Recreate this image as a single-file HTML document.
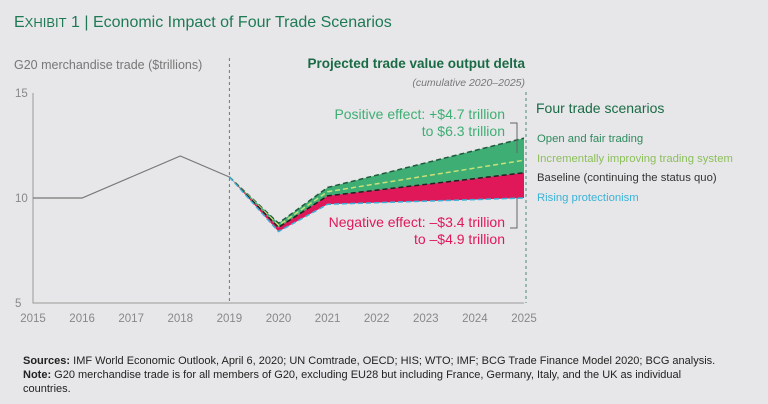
<!DOCTYPE html>
<html><head><meta charset="utf-8"><style>
body{margin:0;background:#e7e7e9;width:768px;height:404px;overflow:hidden;font-family:"Liberation Sans",sans-serif}
svg{display:block}
</style></head><body>
<svg width="768" height="404" viewBox="0 0 768 404">
<rect width="768" height="404" fill="#e7e7e9"/>
<text x="14" y="27" font-size="16" fill="#1e7a55">E<tspan font-size="13">XHIBIT</tspan> 1 | Economic Impact of Four Trade Scenarios</text>
<text x="14" y="69" font-size="12.5" fill="#777">G20 merchandise trade ($trillions)</text>
<text x="525" y="68" font-size="13.5" font-weight="bold" fill="#1a6b45" text-anchor="end">Projected trade value output delta</text>
<text x="525" y="86" font-size="10.5" font-style="italic" fill="#777" text-anchor="end">(cumulative 2020–2025)</text>
<g id="axes"></g>
<g id="marks"></g>
<text x="505" y="119" font-size="14" fill="#3fae74" text-anchor="end">Positive effect: +$4.7 trillion</text>
<text x="505" y="136" font-size="14" fill="#3fae74" text-anchor="end">to $6.3 trillion</text>
<text x="505" y="227" font-size="14" fill="#e0185a" text-anchor="end">Negative effect: –$3.4 trillion</text>
<text x="505" y="244" font-size="14" fill="#e0185a" text-anchor="end">to –$4.9 trillion</text>
<path d="M510,123 H517 V153 M510,228 H517 V198" stroke="#666" fill="none" stroke-width="1"/>
<text x="536" y="113" font-size="14" fill="#1a6b45">Four trade scenarios</text>
<text x="537" y="142" font-size="11.3" fill="#2e8a5e">Open and fair trading</text>
<text x="537" y="162" font-size="11.3" fill="#8cbf5a">Incrementally improving trading system</text>
<text x="537" y="181" font-size="11.3" fill="#333">Baseline (continuing the status quo)</text>
<text x="537" y="201" font-size="11.3" fill="#3bb3d8">Rising protectionism</text>
<text x="23" y="364" font-size="11" fill="#222"><tspan font-weight="bold">Sources:</tspan> IMF World Economic Outlook, April 6, 2020; UN Comtrade, OECD; HIS; WTO; IMF; BCG Trade Finance Model 2020; BCG analysis.</text>
<text x="23" y="378" font-size="11" fill="#222"><tspan font-weight="bold">Note:</tspan> G20 merchandise trade is for all members of G20, excluding EU28 but including France, Germany, Italy, and the UK as individual</text>
<text x="23" y="392" font-size="11" fill="#222">countries.</text>
</svg>
<script>
const years=[2015,2016,2017,2018,2019,2020,2021,2022,2023,2024,2025];
const history=[10,10,11,12,11];
const projYears=[2019,2020,2021,2025];
const openFair=[11,8.8,10.5,12.85];
const improving=[11,8.7,10.3,11.8];
const baseline=[11,8.6,10.1,11.2];
const protection=[11,8.4,9.7,10.0];
const yTicks=[5,10,15];
const NS='http://www.w3.org/2000/svg';
const x=v=>33+(v-2015)*49.1;
const y=v=>198-(v-10)*21;
const axes=document.getElementById('axes'),marks=document.getElementById('marks');
function mk(tag,a,p){const e=document.createElementNS(NS,tag);for(const k in a)e.setAttribute(k,a[k]);(p||marks).appendChild(e);return e;}
let e=mk('path',{d:`M33,93 V303 H${x(2025)}`,stroke:'#999',fill:'none','stroke-width':1},axes);


years.forEach(yr=>{const t=mk('text',{x:x(yr),y:322,'font-size':11.5,fill:'#888','text-anchor':'middle'},axes);t.textContent=yr;

});
yTicks.forEach(v=>{const t=mk('text',{x:15,y:y(v)+4,'font-size':11.5,fill:'#888'},axes);t.textContent=v;

});
e=mk('line',{x1:x(2019),x2:x(2019),y1:58,y2:303,stroke:'#4a8a78','stroke-dasharray':'3,3'},axes);


e=mk('line',{x1:x(2025)+2,x2:x(2025)+2,y1:92,y2:303,stroke:'#4a8a78','stroke-dasharray':'3,3'},axes);


const pts=(arr)=>arr.map((v,i)=>[x(projYears[i]),y(v)]);
const band=(a,b)=>{const p=pts(a),q=pts(b).reverse();return 'M'+p.concat(q).map(c=>c.join(',')).join(' L')+'Z';};
e=mk('path',{d:band(openFair,baseline),fill:'#3fae74'});


e=mk('path',{d:band(baseline,protection),fill:'#e0185a'});


e=mk('polyline',{points:history.map((v,i)=>x(years[i])+','+y(v)).join(' '),fill:'none',stroke:'#777','stroke-width':1.2});


[[openFair,'#1f5a3c','open-fair-line'],[improving,'#c8e07a','improving-line'],[baseline,'#222','baseline-line'],[protection,'#3bb3d8','protectionism-line']].forEach(([arr,c,n])=>{
const l=mk('polyline',{points:pts(arr).map(p=>p.join(',')).join(' '),fill:'none',stroke:c,'stroke-width':1.5,'stroke-dasharray':'5,3'});

});
</script>
</body></html>
